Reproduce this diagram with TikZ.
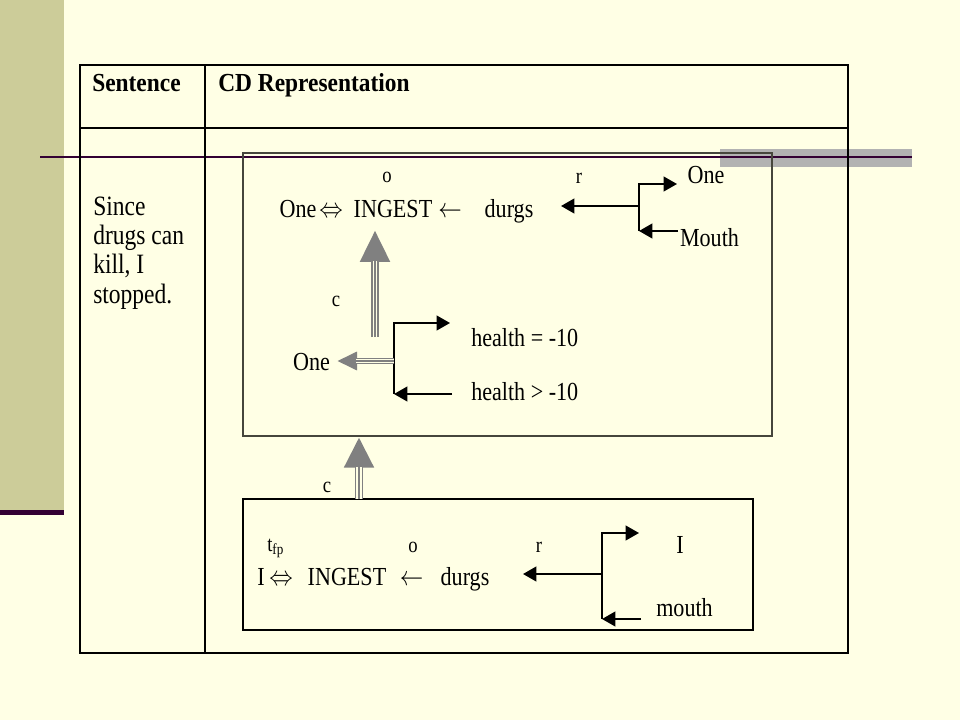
\documentclass[tikz,border=0pt]{standalone}
\usepackage{fontspec}
\setmainfont{Liberation Serif}
\usetikzlibrary{arrows.meta}
\definecolor{bgc}{RGB}{255,255,229}
\definecolor{barc}{RGB}{204,204,153}
\definecolor{purp}{RGB}{51,0,51}
\definecolor{grect}{RGB}{178,178,178}
\definecolor{gcol}{RGB}{128,128,128}
\definecolor{uboxc}{RGB}{70,70,60}
\newcommand\hsq[2][0.85]{\scalebox{#1}[1]{#2}}
\tikzset{
  txt/.style={inner sep=0pt, anchor=base, font=\fontsize{19.5}{22}\selectfont},
  lbl/.style={inner sep=0pt, anchor=base, font=\fontsize{16.5}{19}\selectfont},
  hdr/.style={inner sep=0pt, anchor=base west, font=\fontsize{19.5}{22}\selectfont\bfseries},
  sent/.style={inner sep=0pt, anchor=base west, font=\fontsize{21}{24}\selectfont},
  blk/.style={draw=black, line width=1.5pt, -{Triangle[length=10pt,width=11pt]}},
  bline/.style={draw=black, line width=1.5pt},
  gout/.style={draw=gcol, line width=6pt},
  gmid/.style={draw=bgc, line width=3.6pt},
  gin/.style={draw=gcol, line width=1.2pt},
  cdbox/.style={draw, line width=1.5pt, inner sep=0pt},
}
\begin{document}
\begin{tikzpicture}[x=0.75pt,y=-0.75pt]
\useasboundingbox (0,0) rectangle (960,720);
% background and slide decoration
\fill[bgc] (0,0) rectangle (960,720);
\fill[barc] (0,0) rectangle (64,510);
\fill[purp] (0,510) rectangle (64,515);
\fill[grect] (720,149) rectangle (912,167);
\draw[purp, line width=1.5pt] (40,157) -- (912,157);
% table
\draw[line width=1.1pt] (80,65) rectangle (848,653);
\draw[line width=1.1pt] (205,65) -- (205,653);
\draw[line width=1.1pt] (80,128) -- (848,128);
\node[hdr] (h1) at (92,92) {\hsq[0.9]{Sentence}};
\node[hdr] (h2) at (218,92) {\hsq[0.9]{CD Representation}};
\node[sent] (s1) at (93,216) {\hsq[0.84]{Since}};
\node[sent] (s2) at (93,245) {\hsq[0.84]{drugs can}};
\node[sent] (s3) at (93,274) {\hsq[0.84]{kill, I}};
\node[sent] (s4) at (93,303) {\hsq[0.84]{stopped.}};
% boxes
\node[cdbox, draw=uboxc, minimum width=396.75pt, minimum height=212.25pt] (ubox) at (507.5,294.5) {};
\node[cdbox, draw=black, minimum width=382.5pt, minimum height=98.25pt] (lbox) at (498,564.5) {};
% ---------- upper box ----------
\node[lbl] (uo) at (387,183) {\hsq{o}};
\node[lbl] (ur) at (579,184) {\hsq{r}};
\node[txt] (uone) at (298,218) {\hsq{One}};
\node[txt] (uiff) at (331,218) {\hsq{$\Leftrightarrow$}};
\node[txt] (uing) at (393,218) {\hsq{INGEST}};
\node[txt] (ular) at (450,218) {\hsq{$\leftarrow$}};
\node[txt] (udrg) at (509,218) {\hsq{durgs}};
\node[txt] (urone) at (706,184) {\hsq{One}};
\node[txt] (umouth) at (709.5,247) {\hsq{Mouth}};
\coordinate (ja) at (639,184);
\coordinate (jb) at (639,206);
\coordinate (jc) at (639,231);
\coordinate (ea) at (677,184);
\coordinate (eb) at (561,206);
\coordinate (ec) at (678,231);
\draw[bline] (ja) -- (jc);
\draw[blk] ([xshift=-0.75pt]ja) -- (ea);
\draw[blk] (jb) -- (eb);
\draw[blk] (ec) -- (jc);
% causal arrow up
\coordinate (g1s) at (375,337);
\coordinate (g1e) at (375,230);
\draw[gout, -{Triangle[length=24pt,width=21pt]}, gcol] (g1s) -- (g1e);
\draw[gmid, shorten >=23.5pt] (g1s) -- (g1e);
\draw[gin, shorten >=23.5pt] (g1s) -- (g1e);
\node[lbl] (uc) at (336,306) {\hsq{c}};
% health branch
\coordinate (ka) at (394,323);
\coordinate (kb) at (394,361);
\coordinate (kc) at (394,394);
\coordinate (fa) at (450,323);
\coordinate (fc) at (452,394);
\draw[bline] (ka) -- (kc);
\draw[blk] ([xshift=-0.75pt]ka) -- (fa);
\draw[blk] (fc) -- (kc);
\node[txt, anchor=base west] (he) at (471,346) {\hsq{health = -10}};
\node[txt, anchor=base west] (hg) at (471,400) {\hsq{health > -10}};
\coordinate (g2e) at (337,361);
\draw[gout, line width=5.2pt, -{Triangle[length=15pt,width=13pt]}, gcol] (kb) -- (g2e);
\draw[gmid, line width=3pt, shorten >=14.5pt] (kb) -- (g2e);
\draw[gin, line width=1pt, shorten >=14.5pt] (kb) -- (g2e);
\node[txt] (uloone) at (311.5,370) {\hsq{One}};
% ---------- arrow between boxes ----------
\coordinate (g3s) at (359,499);
\coordinate (g3e) at (359,437);
\draw[gout, line width=6.5pt, -{Triangle[length=23pt,width=21pt]}, gcol] (g3s) -- (g3e);
\draw[gmid, line width=4pt, shorten >=22.5pt] (g3s) -- (g3e);
\draw[gin, shorten >=22.5pt] (g3s) -- (g3e);
\node[lbl] (mc) at (327,492) {\hsq{c}};
% ---------- lower box ----------
\node[lbl, anchor=base west] (ltfp) at (267,551) {\hsq{t\textsubscript{fp}}};
\node[lbl] (lo) at (413,552) {\hsq{o}};
\node[lbl] (lr) at (539,552) {\hsq{r}};
\node[txt] (lI) at (680,553) {\hsq{I}};
\node[txt] (lmouth) at (684.5,616) {\hsq{mouth}};
\node[txt] (lone) at (261,585) {\hsq{I}};
\node[txt] (liff) at (281,585) {\hsq{$\Leftrightarrow$}};
\node[txt] (ling) at (347,585) {\hsq{INGEST}};
\node[txt] (llar) at (411.5,585) {\hsq{$\leftarrow$}};
\node[txt] (ldrg) at (465,585) {\hsq{durgs}};
\coordinate (ma) at (602,533);
\coordinate (mb) at (602,574);
\coordinate (mcc) at (602,619);
\coordinate (na) at (639,533);
\coordinate (nb) at (523,574);
\coordinate (nc) at (641,619);
\draw[bline] (ma) -- (mcc);
\draw[blk] ([xshift=-0.75pt]ma) -- (na);
\draw[blk] (mb) -- (nb);
\draw[blk] (nc) -- (mcc);
\end{tikzpicture}
\end{document}
